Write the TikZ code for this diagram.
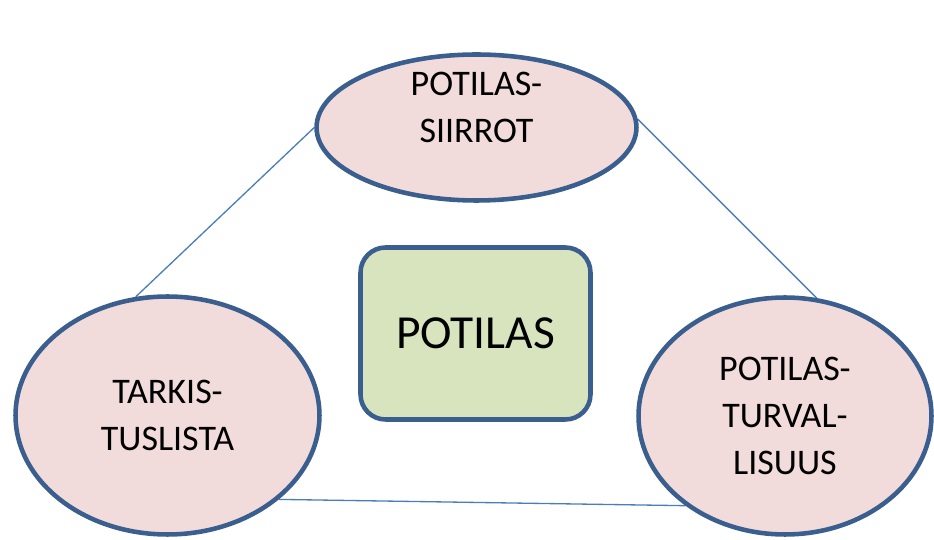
\documentclass[tikz,border=0pt]{standalone}
\usepackage{fontspec}
\setmainfont{Carlito}
\usepackage{tikz}
\usetikzlibrary{shapes.geometric, positioning, backgrounds}

\definecolor{rimblue}{HTML}{3A5F8F}
\definecolor{lineblue}{HTML}{4A7EBB}
\definecolor{topicpink}{HTML}{F2DCDB}
\definecolor{coregreen}{HTML}{D7E4BD}

\begin{document}
\begin{tikzpicture}[
    x=0.02cm, y=-0.02cm,
    % --- STYLES ---
    topic/.style={
        ellipse, draw=rimblue, fill=topicpink,
        line width=2.6pt, inner sep=0pt,
        align=center, text=black,
        font=\fontsize{20.5}{26.8}\selectfont
    },
    topictext/.style={
        align=center, text=black, inner sep=0pt,
        font=\fontsize{20.5}{26.8}\selectfont
    },
    core/.style={
        rectangle, rounded corners=0.5cm,
        draw=rimblue, fill=coregreen,
        line width=2.6pt, text=black,
        minimum width=4.6cm, minimum height=3.44cm,
        font=\fontsize{27}{32}\selectfont
    },
    link/.style={draw=lineblue, line width=0.75pt}
]

% ===== 1. FRAME =====
\useasboundingbox (0,0) rectangle (934,540);

% ===== 2. NODES =====
\node[topic, minimum width=6.4cm, minimum height=2.92cm,
      label={[topictext, yshift=0.4cm]center:POTILAS-\\SIIRROT}]
      (siirrot) at (476.5,127.5) {};

\node[topic, minimum width=6.08cm, minimum height=4.76cm]
      (tarkis) at (167.5,415.5) {TARKIS-\\TUSLISTA};

\node[topic, minimum width=5.86cm, minimum height=4.74cm]
      (turva) at (785,416) {POTILAS-\\TURVAL-\\LISUUS};

\node[core] (potilas) at (475.5,333.5) {POTILAS};

% ===== 3. CONNECTIONS =====
\begin{scope}[on background layer]
\draw[link] (siirrot.west) -- (tarkis.105);
\draw[link] (siirrot.3) -- (turva.75);
\draw[link] (tarkis.-37) -- (turva.222);
\end{scope}

\end{tikzpicture}
\end{document}
